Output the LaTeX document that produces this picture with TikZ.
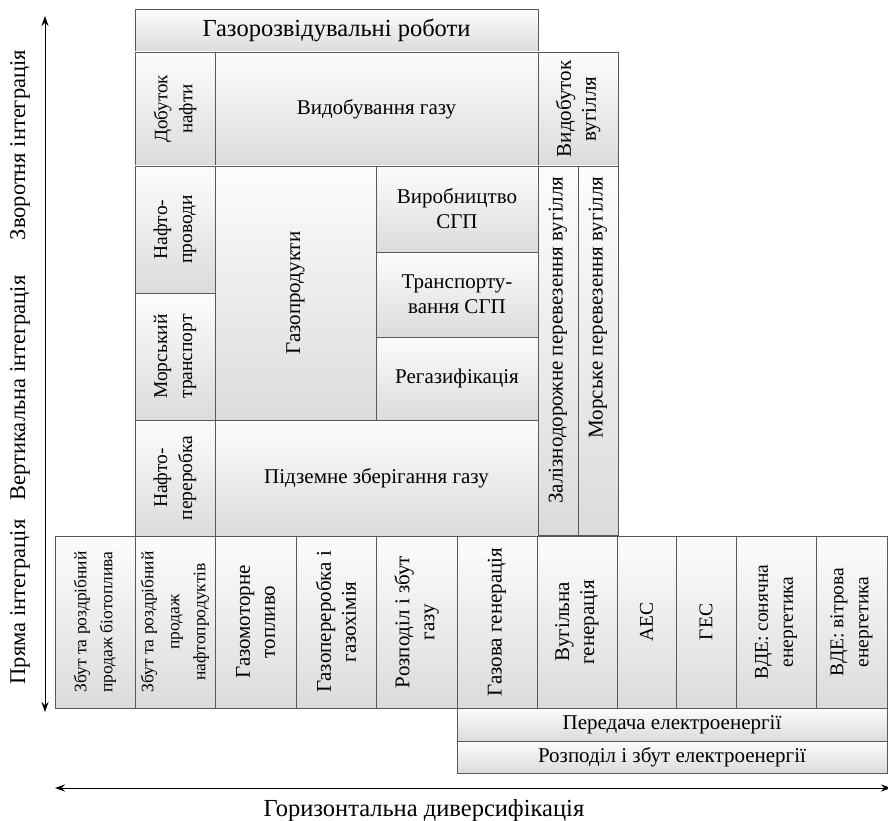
\documentclass[tikz,border=0pt]{standalone}
\usepackage{fontspec}
\setmainfont{Liberation Serif}
\usetikzlibrary{arrows.meta}
\tikzset{
  cell/.style={draw=gray!70!black, line width=0.8pt, top color=gray!2, bottom color=gray!28,
    inner sep=1pt, align=center, font=\fontsize{21}{25}\selectfont},
  fs/.style={font=\fontsize{#1}{25}\selectfont},
  small/.style={font=\fontsize{17.5}{26}\selectfont},
  axis/.style={line width=0.9pt, {Stealth[length=10pt,width=7pt]}-{Stealth[length=10pt,width=7pt]}},
  axlabel/.style={font=\fontsize{22.5}{26}\selectfont},
}
\newcommand\hcell[7][]{\node[cell,#1,minimum width={#5-#3},minimum height={#6-#4}] (#2) at ({(#3+#5)/2},{(#4+#6)/2}) {#7};}
\newcommand\vcell[7][]{\node[cell,rotate=90,#1,minimum width={#6-#4},minimum height={#5-#3}] (#2) at ({(#3+#5)/2},{(#4+#6)/2}) {#7};}
\begin{document}
\begin{tikzpicture}[x=1pt,y=-1pt]
\useasboundingbox (0,0) rectangle (888,821);
% top block
\hcell[fs=24.5]{gr}{135}{9}{538}{52}{Газорозвідувальні роботи}
\vcell[fs=19]{dn}{135}{52}{215}{166}{Добуток\\нафти}
\hcell{vg}{215}{52}{538}{166}{Видобування газу}
\vcell{vv}{538}{52}{618}{166}{Видобуток\\вугілля}
\vcell[fs=19.5]{np}{135}{166}{215}{293}{Нафто-\\проводи}
\vcell[fs=19.5]{mt}{135}{293}{215}{420}{Морський\\транспорт}
\vcell[fs=19.5]{npp}{135}{420}{215}{536}{Нафто-\\переробка}
\vcell{gp}{215}{166}{376}{420}{Газопродукти}
\hcell{vsgp}{376}{166}{538}{252}{Виробництво\\СГП}
\hcell{tsgp}{376}{252}{538}{337}{Транспорту-\\вання СГП}
\hcell{reg}{376}{337}{538}{420}{Регазифікація}
\hcell{pzg}{215}{420}{538}{536}{Підземне зберігання газу}
\vcell[text width=348pt,align=flush right]{zpv}{538}{166}{578}{535}{Залізнодорожне перевезення вугілля}
\vcell[text width=348pt,align=flush right]{mpv}{578}{166}{618}{535}{Морське перевезення вугілля}
% bottom row
\vcell[small]{b1}{55}{536}{135}{708}{Збут та роздрібний\\продаж біотоплива}
\vcell[small]{b2}{135}{536}{215}{708}{Збут та роздрібний\\продаж\\нафтопродуктів}
\vcell{b3}{215}{536}{296}{708}{Газомоторне\\топливо}
\vcell{b4}{296}{536}{376}{708}{Газопереробка і\\газохімія}
\vcell{b5}{376}{536}{457}{708}{Розподіл і збут\\газу}
\vcell{b6}{457}{536}{537}{708}{Газова генерація}
\vcell{b7}{537}{536}{617}{708}{Вугільна\\генерація}
\vcell[fs=19.5]{b8}{617}{536}{676}{708}{АЕС}
\vcell[fs=19.5]{b9}{676}{536}{736}{708}{ГЕС}
\vcell[fs=19.5]{b10}{736}{536}{816}{708}{ВДЕ: сонячна\\енергетика}
\vcell[fs=19.5]{b11}{816}{536}{887}{708}{ВДЕ: вітрова\\енергетика}
% electricity bars
\hcell{pe}{457}{708}{887}{741}{Передача електроенергії}
\hcell{re}{457}{741}{887}{773}{Розподіл і збут електроенергії}
% axes
\coordinate (vt) at (45,16);
\coordinate (vb) at (45,712);
\draw[axis] (vt) -- (vb);
\coordinate (hl) at (55,788);
\coordinate (hr) at (891,788);
\draw[axis] (hl) -- (hr);
\node[axlabel,rotate=90] (zi) at (20,145) {Зворотня інтеграція};
\node[axlabel,rotate=90] (vi) at (20,388) {Вертикальна інтеграція};
\node[axlabel,rotate=90] (pi) at (20,602) {Пряма інтеграція};
\node[axlabel,font=\fontsize{24.5}{26}\selectfont] (hd) at (424,811) {Горизонтальна диверсифікація};
\end{tikzpicture}
\end{document}
